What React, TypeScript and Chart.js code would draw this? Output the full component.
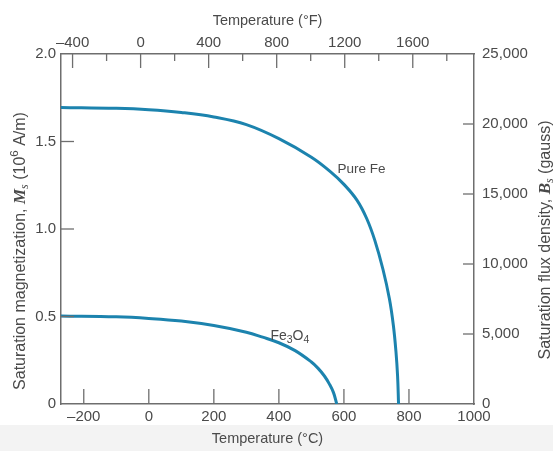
import { useEffect, useRef } from 'react';
import { Chart, registerables } from 'chart.js';

Chart.register(...registerables);

// ---- data ----
const FE_TEMP_C = [-270, -100, 0, 100, 200, 300, 400, 500, 560, 600, 640, 670, 695, 720, 740, 752, 760, 765, 768];
const FE_MS = [1.695, 1.69, 1.682, 1.666, 1.64, 1.596, 1.516, 1.41, 1.325, 1.255, 1.165, 1.06, 0.935, 0.77, 0.6, 0.45, 0.3, 0.16, 0];

const FE3O4_TEMP_C = [-270, -100, 0, 100, 200, 300, 350, 400, 450, 500, 520, 540, 555, 568, 578];
const FE3O4_MS = [0.503, 0.498, 0.489, 0.474, 0.448, 0.41, 0.382, 0.35, 0.305, 0.24, 0.205, 0.16, 0.115, 0.065, 0];

const C_TICKS = [-200, 0, 200, 400, 600, 800, 1000];
const F_LABEL_TICKS = [-400, 0, 400, 800, 1200, 1600];
const F_MINOR_TICKS = [-200, 200, 600, 1000, 1400, 1800];
const MS_TICKS = [0, 0.5, 1.0, 1.5, 2.0];
const GAUSS_TICKS = [0, 5000, 10000, 15000, 20000, 25000];

const C_RANGE = [-270, 1000];
const F_RANGE = [-468, 1960];
const MS_RANGE = [0, 2.0];
const GAUSS_RANGE = [0, 25000];

// ---- style ----
const LINE_COLOR = '#1c83ae';
const AXIS_COLOR = '#6e6e6e';
const TEXT_COLOR = '#4a4a4a';
const SANS = '"Liberation Sans", Arial, sans-serif';
const SERIF = '"Liberation Serif", "Times New Roman", serif';

type Seg = { t: string; font: string; dy?: number };

function drawRich(ctx: CanvasRenderingContext2D, segs: Seg[], x: number, y: number, align: 'left' | 'center') {
  const widths = segs.map((s) => {
    ctx.font = s.font;
    return ctx.measureText(s.t).width;
  });
  const total = widths.reduce((a, b) => a + b, 0);
  let cx = align === 'center' ? x - total / 2 : x;
  segs.forEach((s, i) => {
    ctx.font = s.font;
    ctx.fillText(s.t, cx, y + (s.dy || 0));
    cx += widths[i];
  });
}

const dash = (v: number) => String(v).replace('-', '\u2013');

const decorations = {
  id: 'decorations',
  beforeDraw(chart: any) {
    const { ctx, width, height } = chart;
    ctx.save();
    ctx.fillStyle = '#ffffff';
    ctx.fillRect(0, 0, width, height);
    ctx.fillStyle = '#f3f3f3';
    ctx.fillRect(0, 425, width, height - 425);
    ctx.restore();
  },
  afterDraw(chart: any) {
    const { ctx, chartArea: a, scales } = chart;
    ctx.save();
    ctx.strokeStyle = AXIS_COLOR;
    ctx.lineWidth = 1.3;
    const line = (x1: number, y1: number, x2: number, y2: number) => {
      ctx.beginPath();
      ctx.moveTo(x1, y1);
      ctx.lineTo(x2, y2);
      ctx.stroke();
    };
    C_TICKS.filter((v) => v < C_RANGE[1]).forEach((v) => {
      const x = scales.x.getPixelForValue(v);
      line(x, a.bottom, x, a.bottom - 15);
    });
    F_LABEL_TICKS.forEach((v) => {
      const x = scales.x2.getPixelForValue(v);
      line(x, a.top, x, a.top + 14);
    });
    F_MINOR_TICKS.forEach((v) => {
      const x = scales.x2.getPixelForValue(v);
      line(x, a.top, x, a.top + 7);
    });
    MS_TICKS.filter((v) => v > 0 && v < MS_RANGE[1]).forEach((v) => {
      const y = scales.y.getPixelForValue(v);
      line(a.left, y, a.left + 13, y);
    });
    GAUSS_TICKS.filter((v) => v > 0 && v < GAUSS_RANGE[1]).forEach((v) => {
      const y = scales.y2.getPixelForValue(v);
      line(a.right, y, a.right - 11, y);
    });

    ctx.fillStyle = TEXT_COLOR;
    ctx.textBaseline = 'middle';
    const lbl = `13.5px ${SANS}`;
    const lblSub = `10.5px ${SANS}`;

    // curve labels
    drawRich(ctx, [{ t: 'Pure Fe', font: lbl }], scales.x.getPixelForValue(580), scales.y.getPixelForValue(1.343), 'left');
    drawRich(
      ctx,
      [
        { t: 'Fe', font: `14px ${SANS}` },
        { t: '3', font: lblSub, dy: 3 },
        { t: 'O', font: `14px ${SANS}` },
        { t: '4', font: lblSub, dy: 3 },
      ],
      scales.x.getPixelForValue(374),
      scales.y.getPixelForValue(0.385),
      'left'
    );

    // y titles
    const tf = `16px ${SANS}`;
    const sup = `11.5px ${SANS}`;
    const cy = (a.top + a.bottom) / 2;
    ctx.save();
    ctx.translate(21, cy + 22);
    ctx.rotate(-Math.PI / 2);
    drawRich(
      ctx,
      [
        { t: 'Saturation magnetization, ', font: tf },
        { t: 'M', font: `bold italic 17px ${SERIF}` },
        { t: 's', font: `italic 12px ${SERIF}`, dy: 4 },
        { t: ' (10', font: tf },
        { t: '6', font: sup, dy: -6 },
        { t: ' A/m)', font: tf },
      ],
      0,
      0,
      'center'
    );
    ctx.restore();

    ctx.save();
    ctx.translate(546, cy + 11);
    ctx.rotate(-Math.PI / 2);
    drawRich(
      ctx,
      [
        { t: 'Saturation flux density, ', font: tf },
        { t: 'B', font: `bold italic 17px ${SERIF}` },
        { t: 's', font: `italic 12px ${SERIF}`, dy: 4 },
        { t: ' (gauss)', font: tf },
      ],
      0,
      0,
      'center'
    );
    ctx.restore();
    ctx.restore();
  },
};

export default function App() {
  const ref = useRef<HTMLCanvasElement | null>(null);

  useEffect(() => {
    if (!ref.current) return;
    const tickFont = { family: SANS, size: 15 };
    const titleFont = { family: SANS, size: 14.5 };
    const border = { display: true, color: AXIS_COLOR, width: 1.5 };

    const chart = new Chart(ref.current, {
      type: 'line',
      data: {
        datasets: [
          {
            label: 'Pure Fe',
            data: FE_TEMP_C.map((t, i) => ({ x: t, y: FE_MS[i] })),
            borderColor: LINE_COLOR,
            borderWidth: 3,
            pointRadius: 0,
            tension: 0.4,
            xAxisID: 'x',
            yAxisID: 'y',
          },
          {
            label: 'Fe3O4',
            data: FE3O4_TEMP_C.map((t, i) => ({ x: t, y: FE3O4_MS[i] })),
            borderColor: LINE_COLOR,
            borderWidth: 3,
            pointRadius: 0,
            tension: 0.4,
            xAxisID: 'x',
            yAxisID: 'y',
          },
        ],
      },
      options: {
        responsive: false,
        animation: false,
        layout: { padding: 0 },
        plugins: { legend: { display: false }, tooltip: { enabled: false } },
        scales: {
          x: {
            type: 'linear',
            position: 'bottom',
            min: C_RANGE[0],
            max: C_RANGE[1],
            afterFit: (s: any) => {
              s.height = 47;
            },
            afterBuildTicks: (s: any) => {
              s.ticks = C_TICKS.map((v) => ({ value: v }));
            },
            grid: { display: false, drawTicks: false },
            border,
            ticks: { font: tickFont, color: TEXT_COLOR, padding: 4, maxRotation: 0, autoSkip: false, callback: (v: any) => dash(v) },
            title: { display: true, text: 'Temperature (\u00B0C)', font: titleFont, color: TEXT_COLOR, padding: { top: 0, bottom: 3 } },
          },
          x2: {
            type: 'linear',
            position: 'top',
            min: F_RANGE[0],
            max: F_RANGE[1],
            afterFit: (s: any) => {
              s.height = 54;
            },
            afterBuildTicks: (s: any) => {
              s.ticks = F_LABEL_TICKS.map((v) => ({ value: v }));
            },
            grid: { display: false, drawTicks: false },
            border,
            ticks: { font: tickFont, color: TEXT_COLOR, padding: 2, maxRotation: 0, autoSkip: false, callback: (v: any) => dash(v) },
            title: { display: true, text: 'Temperature (\u00B0F)', font: titleFont, color: TEXT_COLOR, padding: { top: 12, bottom: 0 } },
          },
          y: {
            type: 'linear',
            position: 'left',
            min: MS_RANGE[0],
            max: MS_RANGE[1],
            afterFit: (s: any) => {
              s.width = 61;
            },
            afterBuildTicks: (s: any) => {
              s.ticks = MS_TICKS.map((v) => ({ value: v }));
            },
            grid: { display: false, drawTicks: false },
            border,
            ticks: { font: tickFont, color: TEXT_COLOR, padding: 5, callback: (v: any) => (v === 0 ? '0' : Number(v).toFixed(1)) },
          },
          y2: {
            type: 'linear',
            position: 'right',
            min: GAUSS_RANGE[0],
            max: GAUSS_RANGE[1],
            afterFit: (s: any) => {
              s.width = 79;
            },
            afterBuildTicks: (s: any) => {
              s.ticks = GAUSS_TICKS.map((v) => ({ value: v }));
            },
            grid: { display: false, drawTicks: false },
            border,
            ticks: { font: tickFont, color: TEXT_COLOR, padding: 8, callback: (v: any) => Number(v).toLocaleString('en-US') },
          },
        },
      },
      plugins: [decorations],
    } as any);

    return () => chart.destroy();
  }, []);

  return (
    <div style={{ position: 'absolute', left: 0, top: 0, width: 553, height: 451 }}>
      <canvas ref={ref} width={553} height={451} style={{ display: 'block' }} />
    </div>
  );
}
